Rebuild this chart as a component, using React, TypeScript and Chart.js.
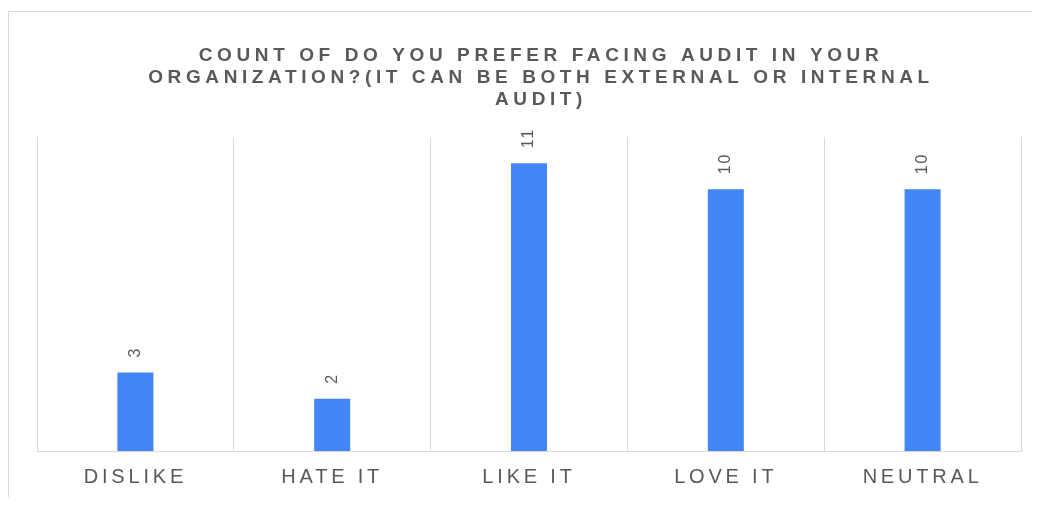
import React, { useEffect, useRef } from "react";
import { Chart, registerables } from "chart.js";

Chart.register(...registerables);

const categories = ["DISLIKE", "HATE IT", "LIKE IT", "LOVE IT", "NEUTRAL"];
const counts = [3, 2, 11, 10, 10];
const titleLines = [
  "COUNT OF DO YOU PREFER FACING AUDIT IN YOUR",
  "ORGANIZATION?(IT CAN BE BOTH EXTERNAL OR INTERNAL",
  "AUDIT)",
];

const TEXT_COLOR = "#595959";
const GRID_COLOR = "#d9d9d9";
const BAR_COLOR = "#4285F4";
const FONT = "'Liberation Sans', Arial, sans-serif";

// Spaced-out tick labels for the category axis
const tickSpacingPlugin = {
  id: "tickSpacing",
  beforeDraw(chart: any) {
    chart.ctx.letterSpacing = "3.8px";
  },
  afterDraw(chart: any) {
    chart.ctx.letterSpacing = "0px";
  },
};

// Multi-line bold title with letter spacing
const spacedTitlePlugin = {
  id: "spacedTitle",
  afterDraw(chart: any) {
    const { ctx, chartArea } = chart;
    ctx.save();
    ctx.letterSpacing = "4.6px";
    ctx.font = `bold 19px ${FONT}`;
    ctx.fillStyle = TEXT_COLOR;
    ctx.textAlign = "center";
    ctx.textBaseline = "alphabetic";
    const cx = (chartArea.left + chartArea.right) / 2 + 12;
    titleLines.forEach((line, i) => {
      ctx.fillText(line, cx, 53 + i * 22);
    });
    ctx.restore();
  },
};

// Rotated value labels above each bar
const valueLabelPlugin = {
  id: "valueLabels",
  afterDatasetsDraw(chart: any) {
    const { ctx } = chart;
    const meta = chart.getDatasetMeta(0);
    const values = chart.data.datasets[0].data as number[];
    ctx.save();
    ctx.letterSpacing = "2px";
    ctx.font = `16px ${FONT}`;
    ctx.fillStyle = TEXT_COLOR;
    ctx.textAlign = "left";
    ctx.textBaseline = "middle";
    meta.data.forEach((bar: any, i: number) => {
      ctx.save();
      ctx.translate(bar.x, bar.y - 15);
      ctx.rotate(-Math.PI / 2);
      ctx.fillText(String(values[i]), 0, 0);
      ctx.restore();
    });
    ctx.restore();
  },
};

export default function App() {
  const canvasRef = useRef<HTMLCanvasElement | null>(null);

  useEffect(() => {
    if (!canvasRef.current) return;
    const chart = new Chart(canvasRef.current, {
      type: "bar",
      data: {
        labels: categories,
        datasets: [
          {
            data: counts,
            backgroundColor: BAR_COLOR,
            borderWidth: 0,
            categoryPercentage: 1,
            barPercentage: 0.183,
          },
        ],
      },
      options: {
        animation: false,
        responsive: false,
        maintainAspectRatio: false,
        layout: { padding: { top: 129, left: 29, right: 19, bottom: 8 } },
        plugins: {
          legend: { display: false },
          title: { display: false },
          tooltip: { enabled: false },
        },
        scales: {
          x: {
            grid: {
              color: GRID_COLOR,
              lineWidth: 1,
              drawTicks: false,
              offset: true,
            },
            border: { color: GRID_COLOR, width: 1 },
            ticks: {
              color: TEXT_COLOR,
              font: { family: FONT, size: 20 },
              padding: 14,
              maxRotation: 0,
              autoSkip: false,
            },
          },
          y: {
            display: false,
            min: 0,
            max: 12,
          },
        },
      },
      plugins: [tickSpacingPlugin, spacedTitlePlugin, valueLabelPlugin],
    });
    return () => chart.destroy();
  }, []);

  return (
    <div
      style={{
        position: "relative",
        width: 1032,
        height: 489,
        overflow: "hidden",
        background: "#fff",
      }}
    >
      <div
        style={{
          position: "absolute",
          left: 0,
          top: 3,
          width: 1080,
          height: 520,
          border: `1px solid ${GRID_COLOR}`,
          boxSizing: "border-box",
        }}
      />
      <canvas
        ref={canvasRef}
        width={1032}
        height={503}
        style={{ position: "absolute", left: 0, top: 0, width: 1032, height: 503 }}
      />
    </div>
  );
}
